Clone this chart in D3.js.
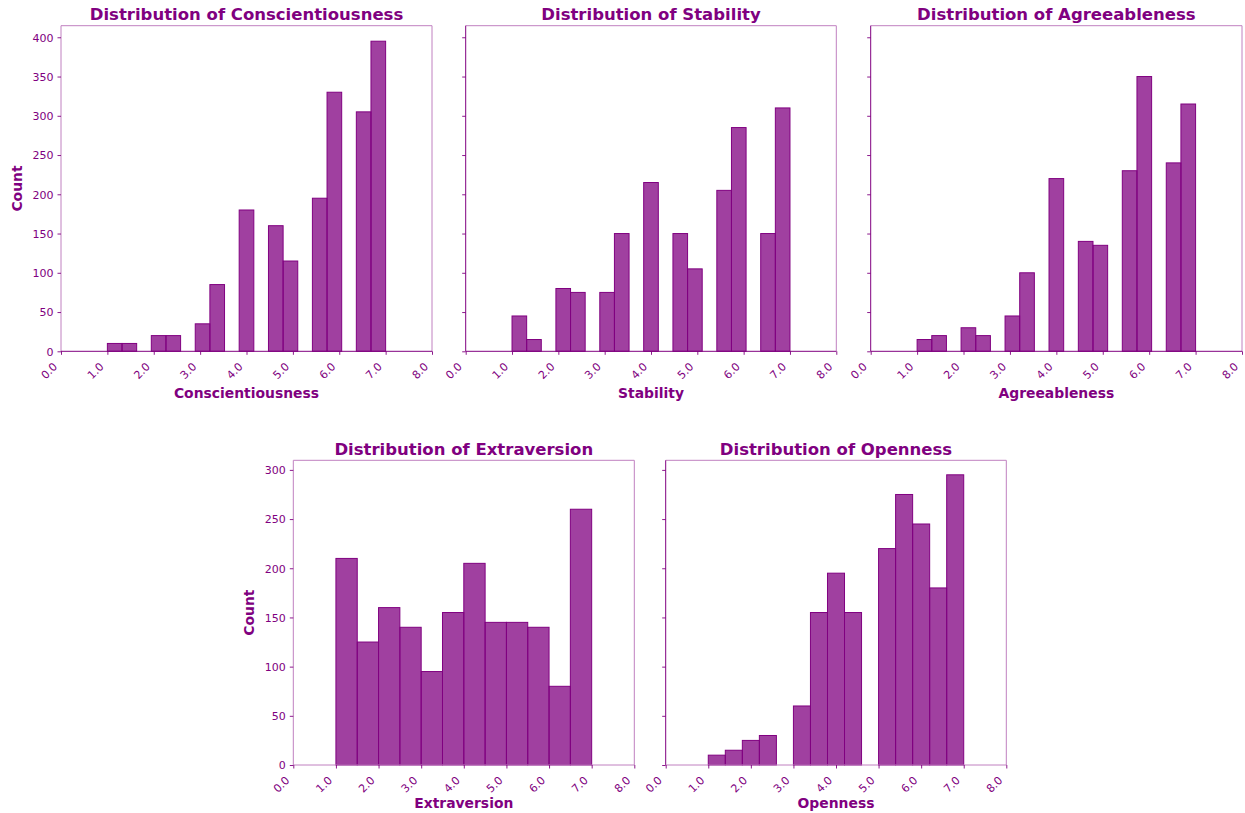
<!DOCTYPE html>
<html>
<head>
<meta charset="utf-8">
<script src="https://cdn.jsdelivr.net/npm/d3@7"></script>
<style>
  html, body { margin: 0; padding: 0; background: #ffffff; }
  svg { display: block; font-family: "DejaVu Sans", sans-serif; }
</style>
</head>
<body>
<svg id="chart" width="1245" height="813"></svg>
<script>
// ---------------- DATA ----------------
const xTickLabels = ["0.0","1.0","2.0","3.0","4.0","5.0","6.0","7.0","8.0"];
const xTickValues = [0,1,2,3,4,5,6,7,8];
const topYTicks = [0,50,100,150,200,250,300,350,400];
const bottomYTicks = [0,50,100,150,200,250,300];

// histogram ranges / bin counts
const binRange = [1, 7];
const binsTop = 19;       // Conscientiousness, Stability, Agreeableness
const binsExtraversion = 12;
const binsOpenness = 15;

const conscientiousness = [10,10,0,20,20,0,35,85,0,180,0,160,115,0,195,330,0,305,395];
const stability         = [45,15,0,80,75,0,75,150,0,215,0,150,105,0,205,285,0,150,310];
const agreeableness     = [15,20,0,30,20,0,45,100,0,220,0,140,135,0,230,350,0,240,315];
const extraversion      = [210,125,160,140,95,155,205,145,145,140,80,260];
const openness          = [10,15,25,30,0,60,155,195,155,0,220,275,245,180,295];

const traitNames = ["Conscientiousness","Stability","Agreeableness","Extraversion","Openness"];

// ---------------- LAYOUT ----------------
const purple = "#800080";
const fill = "rgba(128,0,128,0.75)";
const lightSpine = "#c080c0";

const panels = [
  {name: traitNames[0], counts: conscientiousness, bins: binsTop, x0: 61,    x1: 432,    y0: 25.7,  y1: 351.3, yMax: 414.75, yTicks: topYTicks, showY: true,  leftDark: false, bottomDark: true,  titleY: 19.5, labelY: 397.5},
  {name: traitNames[1], counts: stability,         bins: binsTop, x0: 465.7, x1: 836.3,  y0: 25.7,  y1: 351.3, yMax: 414.75, yTicks: topYTicks, showY: false, leftDark: true,  bottomDark: true,  titleY: 19.5, labelY: 397.5},
  {name: traitNames[2], counts: agreeableness,     bins: binsTop, x0: 870.7, x1: 1242,   y0: 25.7,  y1: 351.3, yMax: 414.75, yTicks: topYTicks, showY: false, leftDark: true,  bottomDark: true,  titleY: 19.5, labelY: 397.5},
  {name: traitNames[3], counts: extraversion, bins: binsExtraversion, x0: 293.3, x1: 634.3, y0: 460.3, y1: 765, yMax: 309.75, yTicks: bottomYTicks, showY: true,  leftDark: false, bottomDark: false, titleY: 454.5, labelY: 807.5},
  {name: traitNames[4], counts: openness,     bins: binsOpenness,     x0: 665.7, x1: 1006.3, y0: 460.3, y1: 765, yMax: 309.75, yTicks: bottomYTicks, showY: false, leftDark: true,  bottomDark: false, titleY: 454.5, labelY: 807.5}
];

const svg = d3.select("#chart");

panels.forEach(p => {
  const x = d3.scaleLinear().domain([0, 8]).range([p.x0, p.x1]);
  const y = d3.scaleLinear().domain([0, p.yMax]).range([p.y1, p.y0]);
  const g = svg.append("g");

  // bins
  const w = (binRange[1] - binRange[0]) / p.bins;
  const bars = p.counts.map((c, i) => ({lo: binRange[0] + i * w, hi: binRange[0] + (i + 1) * w, c}));

  g.selectAll("rect.bar").data(bars.filter(b => b.c > 0)).join("rect")
    .attr("class", "bar")
    .attr("x", d => x(d.lo))
    .attr("width", d => x(d.hi) - x(d.lo))
    .attr("y", d => y(d.c))
    .attr("height", d => y(0) - y(d.c))
    .attr("fill", fill)
    .attr("stroke", purple)
    .attr("stroke-width", 1);

  // spines
  g.append("line").attr("x1", p.x0).attr("x2", p.x1).attr("y1", p.y0).attr("y2", p.y0)
    .attr("stroke", lightSpine).attr("stroke-width", 1);
  g.append("line").attr("x1", p.x1).attr("x2", p.x1).attr("y1", p.y0).attr("y2", p.y1)
    .attr("stroke", lightSpine).attr("stroke-width", 1);
  g.append("line").attr("x1", p.x0).attr("x2", p.x0).attr("y1", p.y0).attr("y2", p.y1)
    .attr("stroke", p.leftDark ? purple : lightSpine).attr("stroke-width", 1);
  g.append("line").attr("x1", p.x0).attr("x2", p.x1).attr("y1", p.y1).attr("y2", p.y1)
    .attr("stroke", p.bottomDark ? purple : lightSpine).attr("stroke-width", 1);

  // x axis
  const xAxis = d3.axisBottom(x).tickValues(xTickValues)
    .tickFormat((d, i) => xTickLabels[i]).tickSize(3.5).tickSizeOuter(0);
  const xg = g.append("g").attr("transform", `translate(0,${p.y1})`).call(xAxis);
  xg.select(".domain").remove();
  xg.selectAll(".tick line").attr("stroke", purple).attr("stroke-width", 0.9);
  xg.selectAll(".tick text")
    .attr("fill", purple)
    .attr("font-size", 11)
    .attr("font-family", "DejaVu Sans, sans-serif")
    .attr("text-anchor", "end")
    .attr("dy", null)
    .attr("y", null)
    .attr("transform", "translate(-3.5,16) rotate(-45)");

  // y axis
  const yAxis = d3.axisLeft(y).tickValues(p.yTicks).tickSize(3.5).tickSizeOuter(0)
    .tickFormat(p.showY ? d3.format("d") : () => "");
  const yg = g.append("g").attr("transform", `translate(${p.x0},0)`).call(yAxis);
  yg.select(".domain").remove();
  yg.selectAll(".tick line").attr("stroke", purple).attr("stroke-width", 0.9);
  yg.selectAll(".tick text")
    .attr("fill", purple)
    .attr("font-size", 11)
    .attr("font-family", "DejaVu Sans, sans-serif")
    .attr("x", -7.5)
    .attr("dy", "0.35em");

  // title
  g.append("text")
    .attr("x", (p.x0 + p.x1) / 2).attr("y", p.titleY)
    .attr("text-anchor", "middle")
    .attr("font-size", 16.5).attr("font-weight", "bold")
    .attr("fill", purple)
    .text("Distribution of " + p.name);

  // x label
  g.append("text")
    .attr("x", (p.x0 + p.x1) / 2).attr("y", p.labelY)
    .attr("text-anchor", "middle")
    .attr("font-size", 13.9).attr("font-weight", "bold")
    .attr("fill", purple)
    .text(p.name);

  // y label
  if (p.showY) {
    const cy = (p.y0 + p.y1) / 2;
    const lx = p.x0 - 39;
    g.append("text")
      .attr("transform", `translate(${lx},${cy}) rotate(-90)`)
      .attr("text-anchor", "middle")
      .attr("font-size", 13.9).attr("font-weight", "bold")
      .attr("fill", purple)
      .text("Count");
  }
});
</script>
</body>
</html>
